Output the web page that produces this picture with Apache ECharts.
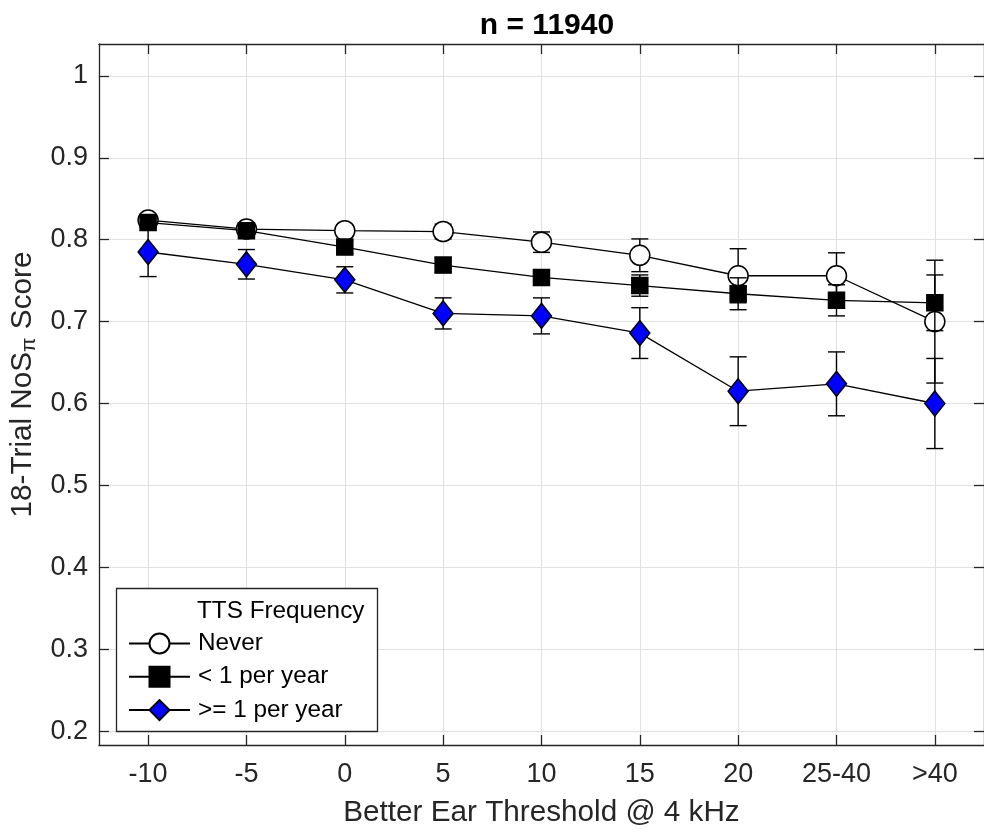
<!DOCTYPE html>
<html><head><meta charset="utf-8">
<script src="https://cdn.jsdelivr.net/npm/echarts@6/dist/echarts.min.js"></script>
<style>html,body{margin:0;padding:0;background:#fff}#c{width:984px;height:833px}</style>
</head><body><div id="c"></div>
<script>
// ---- data ----
const categories = ['-10', '-5', '0', '5', '10', '15', '20', '25-40', '>40'];
const seriesNames = ['Never', '< 1 per year', '>= 1 per year'];
const neverMean = [0.824, 0.813, 0.811, 0.810, 0.797, 0.781, 0.756, 0.756, 0.700];
const neverErr  = [0.005, 0.006, 0.007, 0.009, 0.0125, 0.020, 0.033, 0.028, 0.075];
const lessMean  = [0.821, 0.811, 0.791, 0.769, 0.754, 0.744, 0.734, 0.726, 0.723];
const lessErr   = [0.006, 0.007, 0.008, 0.009, 0.009, 0.013, 0.0195, 0.019, 0.034];
const moreMean  = [0.785, 0.770, 0.751, 0.710, 0.707, 0.686, 0.615, 0.624, 0.600];
const moreErr   = [0.030, 0.018, 0.016, 0.019, 0.022, 0.031, 0.042, 0.039, 0.055];
const yTicks = [0.2, 0.3, 0.4, 0.5, 0.6, 0.7, 0.8, 0.9, 1.0];
const titleText = 'n = 11940';
const xName = 'Better Ear Threshold @ 4 kHz';
const legendTitle = 'TTS Frequency';

// ---- build ----
const xPos = categories.map((c, i) => i + 1);
const font = '"Liberation Sans", Arial, Helvetica, sans-serif';
const axisColor = '#262626';
const chart = echarts.init(document.getElementById('c'), null, { renderer: 'canvas' });

function errSeries(means, errs, z) {
  return {
    type: 'custom', silent: true, z: z, animation: false,
    xAxisIndex: 0, yAxisIndex: 0,
    data: means.map((m, i) => [xPos[i], m - errs[i], m + errs[i]]),
    encode: { x: 0, y: [1, 2] },
    renderItem: function (params, api) {
      const x = api.value(0);
      const lo = api.coord([x, api.value(1)]);
      const hi = api.coord([x, api.value(2)]);
      const hw = 8.5;
      const style = { stroke: '#000', lineWidth: 1.4, fill: null };
      return { type: 'group', children: [
        { type: 'line', shape: { x1: lo[0], y1: lo[1], x2: hi[0], y2: hi[1] }, style: style },
        { type: 'line', shape: { x1: lo[0] - hw, y1: lo[1], x2: lo[0] + hw, y2: lo[1] }, style: style },
        { type: 'line', shape: { x1: hi[0] - hw, y1: hi[1], x2: hi[0] + hw, y2: hi[1] }, style: style }
      ] };
    }
  };
}
function lineSeries(name, means, symbol, size, fill, z) {
  return {
    type: 'line', name: name, z: z, animation: false,
    xAxisIndex: 0, yAxisIndex: 0,
    data: means.map((v, i) => [xPos[i], v]),
    symbol: symbol, symbolSize: size, showAllSymbol: true,
    itemStyle: { color: fill, borderColor: '#000', borderWidth: 1.5 },
    lineStyle: { color: '#000', width: 1.3 },
    emphasis: { disabled: true }
  };
}

const xCommon = {
  type: 'value', min: 0.5, max: 9.5, gridIndex: 0,
  axisLine: { show: true, lineStyle: { color: axisColor, width: 1.3 } },
  axisTick: { show: true, inside: true, length: 10, customValues: xPos, lineStyle: { color: axisColor, width: 1.3 } },
};
const yCommon = {
  type: 'value', min: 0.183, max: 1.039, gridIndex: 0,
  axisLine: { show: true, lineStyle: { color: axisColor, width: 1.3 } },
  axisTick: { show: true, inside: true, length: 10, customValues: yTicks, lineStyle: { color: axisColor, width: 1.3 } },
};

const option = {
  backgroundColor: '#fff',
  animation: false,
  title: {
    text: titleText, left: 542, top: 6, textAlign: 'center',
    textStyle: { fontFamily: font, fontSize: 30, fontWeight: 'bold', color: '#000' }
  },
  grid: { left: 96, top: 44, width: 892, bottom: 84, containLabel: false },
  xAxis: [
    Object.assign({}, xCommon, {
      position: 'bottom',
      name: xName, nameLocation: 'middle', nameGap: 53,
      nameTextStyle: { fontFamily: font, fontSize: 29.7, color: axisColor },
      axisLabel: { show: true, customValues: xPos, margin: 16, fontFamily: font, fontSize: 27, color: axisColor,
        formatter: function (v) { return categories[Math.round(v) - 1]; } },
      splitLine: { show: true, lineStyle: { color: '#e1e1e1', width: 1 } }
    }),
    Object.assign({}, xCommon, {
      position: 'top', axisLabel: { show: false }, splitLine: { show: false }
    })
  ],
  yAxis: [
    Object.assign({}, yCommon, {
      position: 'left',
      name: '18-Trial NoS{pi|π} Score', nameLocation: 'middle', nameGap: 58,
      nameTextStyle: { fontFamily: font, fontSize: 29.7, color: axisColor, padding: [0, 0, 0, 20],
        rich: { pi: { fontFamily: font, fontSize: 21, color: axisColor, padding: [12, 0, 0, 0] } } },
      axisLabel: { show: true, customValues: yTicks, margin: 11, fontFamily: font, fontSize: 27, color: axisColor,
        formatter: function (v) { return String(parseFloat(v.toFixed(1))); } },
      splitLine: { show: true, lineStyle: { color: '#e1e1e1', width: 1 } }
    }),
    Object.assign({}, yCommon, {
      position: 'right', axisLabel: { show: false }, splitLine: { show: false }
    })
  ],
  legend: {
    data: seriesNames, orient: 'vertical', left: 128, top: 631.5,
    itemWidth: 61, itemHeight: 25, itemGap: 9.3, padding: 0, z: 60,
    selectedMode: false,
    textStyle: { fontFamily: font, fontSize: 24.3, color: '#000', padding: [0, 0, 0, 3] }
  },
  graphic: [
    { type: 'rect', z: 50, shape: { x: 116.5, y: 588.5, width: 261, height: 143 },
      style: { fill: '#fff', stroke: axisColor, lineWidth: 1.3 } },
    { type: 'text', z: 60, x: 197, y: 611,
      style: { text: legendTitle, font: '24.3px ' + font, fill: '#000', textVerticalAlign: 'middle', textAlign: 'left' } }
  ],
  series: [
    errSeries(neverMean, neverErr, 2),
    lineSeries(seriesNames[0], neverMean, 'circle', 20, '#ffffff', 3),
    errSeries(lessMean, lessErr, 4),
    lineSeries(seriesNames[1], lessMean, 'rect', 16, '#000000', 5),
    errSeries(moreMean, moreErr, 6),
    lineSeries(seriesNames[2], moreMean, 'diamond', [20, 25], '#0000ff', 7)
  ]
};
chart.setOption(option);
</script>
</body></html>
